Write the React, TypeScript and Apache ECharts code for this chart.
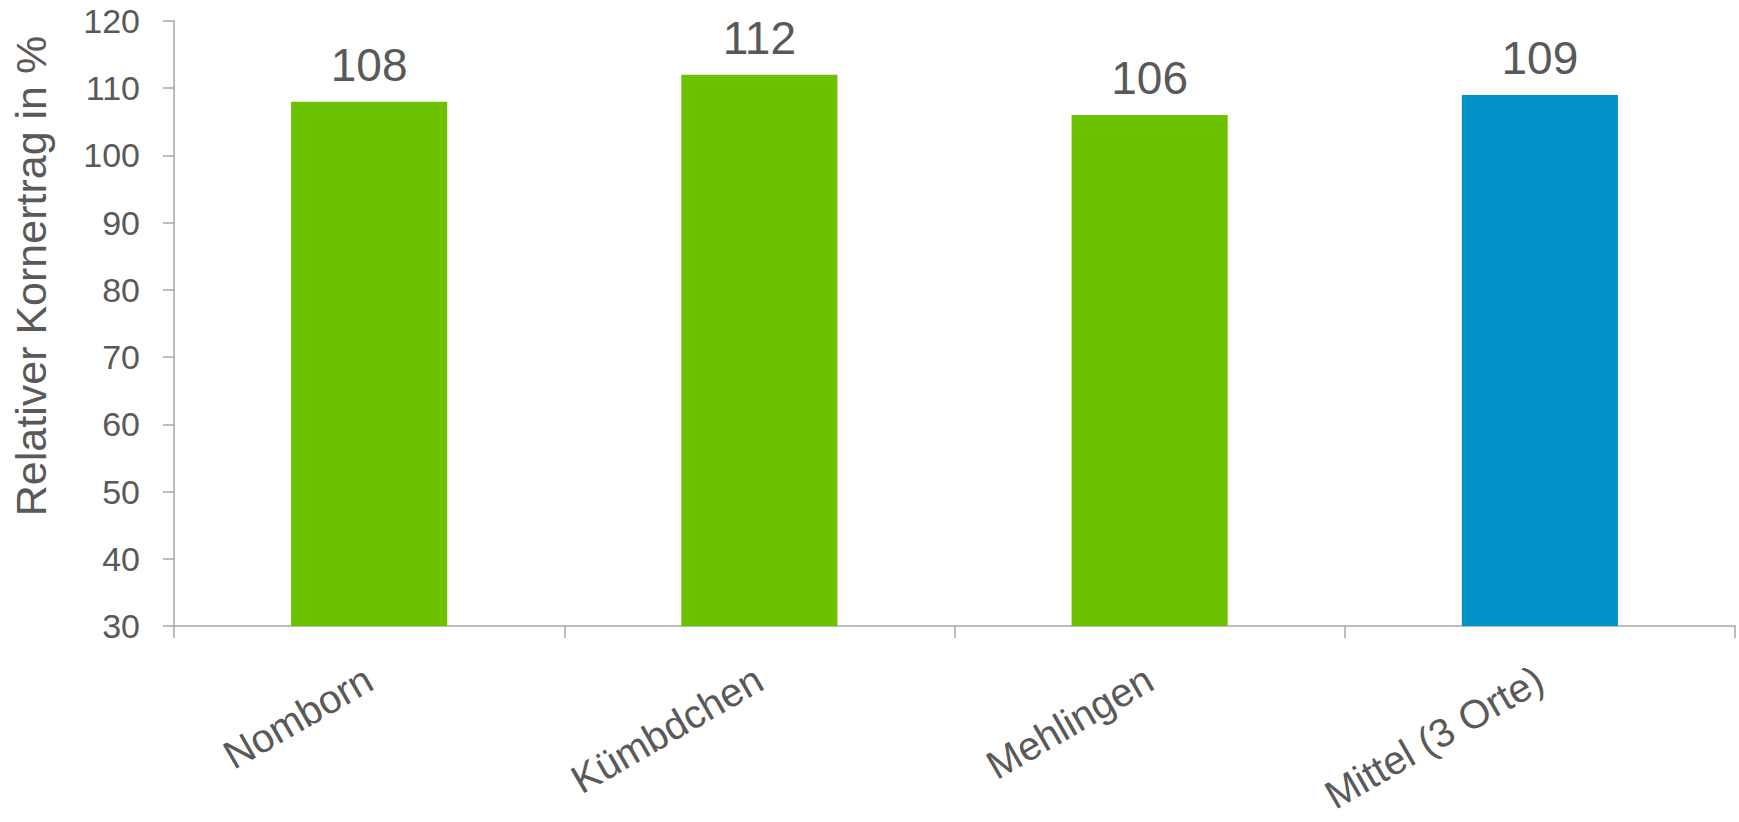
import React, { useEffect, useRef } from "react";
import * as echarts from "echarts";

const categories = ["Nomborn", "Kümbdchen", "Mehlingen", "Mittel (3 Orte)"];
const values = [108, 112, 106, 109];
const barColors = ["#6cc200", "#6cc200", "#6cc200", "#0091c6"];
const yAxisTitle = "Relativer Kornertrag in %";
const yMin = 30;
const yMax = 120;
const yStep = 10;

const FONT = "'Liberation Sans', Arial, Helvetica, sans-serif";
const TEXT = "#595959";
const AXIS = "#a6a6a6";

export default function App() {
  const ref = useRef<HTMLDivElement>(null);

  useEffect(() => {
    document.body.style.margin = "0";
    if (!ref.current) return;
    const chart = echarts.init(ref.current, undefined, { renderer: "svg" });
    chart.setOption({
      animation: false,
      backgroundColor: "#ffffff",
      textStyle: { fontFamily: FONT },
      grid: { left: 174, right: 4, top: 21, bottom: 196, containLabel: false },
      xAxis: {
        type: "category",
        data: categories,
        axisLine: { show: true, lineStyle: { color: AXIS, width: 1.5 } },
        axisTick: { show: true, length: 12, lineStyle: { color: AXIS, width: 1.5 } },
        axisLabel: {
          rotate: 30,
          margin: 50,
          fontSize: 40,
          color: TEXT,
          fontFamily: FONT,
          interval: 0,
        },
        splitLine: { show: false },
      },
      yAxis: {
        type: "value",
        min: yMin,
        max: yMax,
        interval: yStep,
        axisLine: { show: true, lineStyle: { color: AXIS, width: 1.5 } },
        axisTick: { show: true, length: 11, lineStyle: { color: AXIS, width: 1.5 } },
        axisLabel: { margin: 34, fontSize: 34, color: TEXT, fontFamily: FONT },
        splitLine: { show: false },
      },
      graphic: [
        {
          type: "text",
          x: 31,
          y: 276,
          rotation: Math.PI / 2,
          style: {
            text: yAxisTitle,
            font: `43px ${FONT}`,
            fill: TEXT,
            textAlign: "center",
            textVerticalAlign: "middle",
          },
        },
      ],
      series: [
        {
          type: "bar",
          barWidth: "40%",
          data: values.map((v, i) => ({ value: v, itemStyle: { color: barColors[i] } })),
          label: {
            show: true,
            position: "top",
            distance: 14,
            fontSize: 46,
            color: TEXT,
            fontFamily: FONT,
          },
        },
      ],
    });
    return () => chart.dispose();
  }, []);

  return <div ref={ref} style={{ width: 1739, height: 822 }} />;
}
